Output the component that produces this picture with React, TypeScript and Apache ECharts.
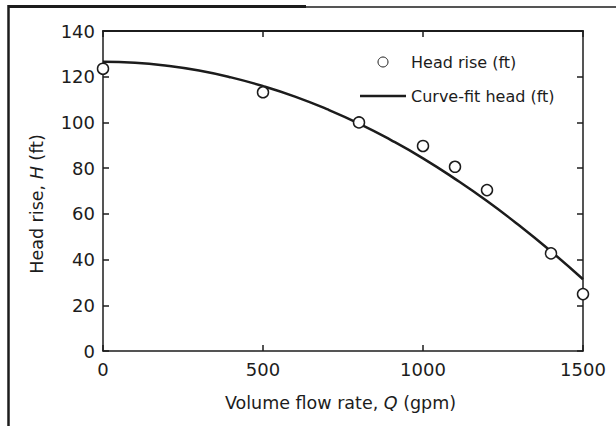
import React, { useEffect, useRef } from "react";
import * as echarts from "echarts";

// Measured data points (gpm, ft)
const pointQ = [0, 500, 800, 1000, 1100, 1200, 1400, 1500];
const pointH = [123.5, 113.2, 100, 89.7, 80.6, 70.4, 42.7, 24.9];

// Curve-fit head
const curveQ = [0, 100, 200, 300, 400, 500, 600, 700, 800, 900, 1000, 1100, 1200, 1300, 1400, 1500];
const curveH = [126.5, 126.1, 124.8, 122.7, 119.7, 115.9, 111.3, 105.8, 99.5, 92.3, 84.3, 75.3, 65.6, 55.0, 43.6, 31.4];

const seriesNames = ["Head rise (ft)", "Curve-fit head (ft)"];

const FONT = "DejaVu Sans";
const INK = "#1c1c1c";

export default function App() {
  const ref = useRef<HTMLDivElement>(null);
  useEffect(() => {
    if (!ref.current) return;
    const chart = echarts.init(ref.current, undefined, { renderer: "svg" });
    const axisCommon = {
      type: "value" as const,
      axisLine: { show: true, onZero: false, lineStyle: { color: INK, width: 1.5 } },
      axisTick: { show: true, inside: true, length: 6, lineStyle: { color: INK, width: 1.5 } },
      splitLine: { show: false },
    };
    const labelStyle = { fontFamily: FONT, fontSize: 18, color: INK };
    chart.setOption({
      animation: false,
      backgroundColor: "#ffffff",
      grid: { left: 103, top: 31, right: 33, bottom: 75 },
      legend: {
        orient: "vertical",
        left: 355,
        top: 49,
        itemWidth: 46,
        itemHeight: 10,
        itemGap: 18,
        data: [
          { name: seriesNames[0], itemStyle: { borderWidth: 1, borderColor: INK, color: "#ffffff" } },
          { name: seriesNames[1], icon: "path://M0,0 L46,0 L46,2.5 L0,2.5 Z" },
        ],
        textStyle: { fontFamily: FONT, fontSize: 16, color: INK },
      },
      xAxis: [
        {
          ...axisCommon,
          min: 0,
          max: 1500,
          interval: 500,
          position: "bottom",
          axisLabel: { ...labelStyle, margin: 9, formatter: (v: number) => String(v) },
          name: "{a|Volume flow rate, }{i|Q}{a| (gpm)}",
          nameLocation: "middle",
          nameGap: 43,
          nameTextStyle: {
            padding: [0, 5, 0, 0],
            rich: {
              a: { fontFamily: FONT, fontSize: 17.5, color: INK },
              i: { fontFamily: FONT, fontSize: 17.5, color: INK, fontStyle: "italic" },
            },
          },
        },
        {
          ...axisCommon,
          min: 0,
          max: 1500,
          interval: 500,
          position: "top",
          axisLine: { show: true, onZero: false, lineStyle: { color: INK, width: 2 } },
          axisLabel: { show: false },
        },
      ],
      yAxis: [
        {
          ...axisCommon,
          min: 0,
          max: 140,
          interval: 20,
          position: "left",
          axisLabel: { ...labelStyle, margin: 8 },
          name: "{a|Head rise, }{i|H}{a| (ft)}",
          nameLocation: "middle",
          nameGap: 57,
          nameTextStyle: {
            padding: [0, 26, 0, 0],
            rich: {
              a: { fontFamily: FONT, fontSize: 17.5, color: INK },
              i: { fontFamily: FONT, fontSize: 17.5, color: INK, fontStyle: "italic" },
            },
          },
        },
        {
          ...axisCommon,
          min: 0,
          max: 140,
          interval: 20,
          position: "right",
          axisLabel: { show: false },
        },
      ],
      series: [
        {
          name: seriesNames[0],
          type: "scatter",
          symbol: "circle",
          symbolSize: 11,
          clip: false,
          itemStyle: { color: "#ffffff", borderColor: INK, borderWidth: 1.5, opacity: 1 },
          data: pointQ.map((q, i) => [q, pointH[i]]),
          z: 3,
        },
        {
          name: seriesNames[1],
          type: "line",
          smooth: true,
          showSymbol: false,
          symbol: "none",
          lineStyle: { color: INK, width: 2.5 },
          itemStyle: { color: INK },
          data: curveQ.map((q, i) => [q, curveH[i]]),
          z: 2,
        },
      ],
      graphic: [
        { type: "line", shape: { x1: 8.5, y1: 5, x2: 8.5, y2: 426 }, style: { stroke: INK, lineWidth: 2.5 } },
        { type: "line", shape: { x1: 8, y1: 6.5, x2: 306, y2: 6.5 }, style: { stroke: INK, lineWidth: 3 } },
        { type: "line", shape: { x1: 306, y1: 7, x2: 616, y2: 7 }, style: { stroke: INK, lineWidth: 1.5 } },
      ],
    });
    return () => chart.dispose();
  }, []);
  return (
    <div
      ref={ref}
      style={{ position: "fixed", left: 0, top: 0, width: 616, height: 426, background: "#fff" }}
    />
  );
}
